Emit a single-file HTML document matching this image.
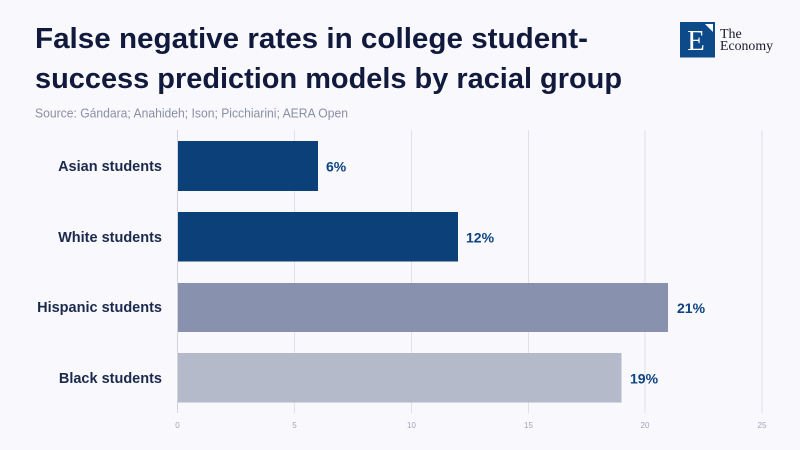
<!DOCTYPE html>
<html><head><meta charset="utf-8"><style>
html,body{margin:0;padding:0;background:#f8f8fd;}
svg{display:block;}
</style></head><body>
<svg width="800" height="450" viewBox="0 0 800 450" xmlns="http://www.w3.org/2000/svg">
<rect width="800" height="450" fill="#f8f8fd"/>
<g font-family="Liberation Sans, sans-serif" font-weight="bold" fill="#111a3c">
<text x="35" y="48" font-size="28.5" textLength="553" lengthAdjust="spacingAndGlyphs">False negative rates in college student-</text>
<text x="35" y="88" font-size="28.5" textLength="587" lengthAdjust="spacingAndGlyphs">success prediction models by racial group</text>
</g>
<text x="35" y="117.5" font-family="Liberation Sans, sans-serif" font-size="12.5" fill="#8a8fa2" textLength="313" lengthAdjust="spacingAndGlyphs">Source: Gándara; Anahideh; Ison; Picchiarini; AERA Open</text>
<!-- logo -->
<rect x="680" y="22" width="35" height="35.5" fill="#0d4a8a"/>
<polygon points="705,24 713,24 713,32" fill="#ffffff"/>
<text x="696" y="50" text-anchor="middle" font-family="Liberation Serif, serif" font-size="29" fill="#ffffff">E</text>
<text x="720" y="38" font-family="Liberation Serif, serif" font-size="14" fill="#1a1a2a">The</text>
<text x="720" y="50" font-family="Liberation Serif, serif" font-size="14" fill="#1a1a2a" textLength="53" lengthAdjust="spacingAndGlyphs">Economy</text>
<!-- grid -->
<g stroke="#dfe0ea" stroke-width="1">
<line x1="294.5" y1="130" x2="294.5" y2="413"/>
<line x1="411.5" y1="130" x2="411.5" y2="413"/>
<line x1="528.5" y1="130" x2="528.5" y2="413"/>
<line x1="645" y1="130" x2="645" y2="413"/>
<line x1="762" y1="130" x2="762" y2="413"/>
</g>
<line x1="177.5" y1="130" x2="177.5" y2="413" stroke="#d2d3dc" stroke-width="1"/>
<!-- bars -->
<rect x="178" y="141" width="140" height="50" fill="#0b4079"/>
<rect x="178" y="212" width="280" height="49.5" fill="#0b4079"/>
<rect x="178" y="283" width="490" height="49" fill="#8891ae"/>
<rect x="178" y="353" width="443.5" height="49.5" fill="#b5bacb"/>
<!-- category labels -->
<g font-family="Liberation Sans, sans-serif" font-weight="bold" font-size="14.5" fill="#1b2a4c" text-anchor="end">
<text x="162" y="171">Asian students</text>
<text x="162" y="242">White students</text>
<text x="162" y="312">Hispanic students</text>
<text x="162" y="383">Black students</text>
</g>
<!-- value labels -->
<g font-family="Liberation Sans, sans-serif" font-weight="bold" font-size="14" fill="#0d4382">
<text x="326" y="171.5">6%</text>
<text x="466" y="242.5">12%</text>
<text x="677" y="313">21%</text>
<text x="630" y="383.5">19%</text>
</g>
<!-- tick labels -->
<g font-family="Liberation Sans, sans-serif" font-size="8" fill="#a0a5b8" text-anchor="middle">
<text x="177.5" y="428">0</text>
<text x="294.5" y="428">5</text>
<text x="411.5" y="428">10</text>
<text x="528.5" y="428">15</text>
<text x="645" y="428">20</text>
<text x="762" y="428">25</text>
</g>
</svg>
</body></html>
